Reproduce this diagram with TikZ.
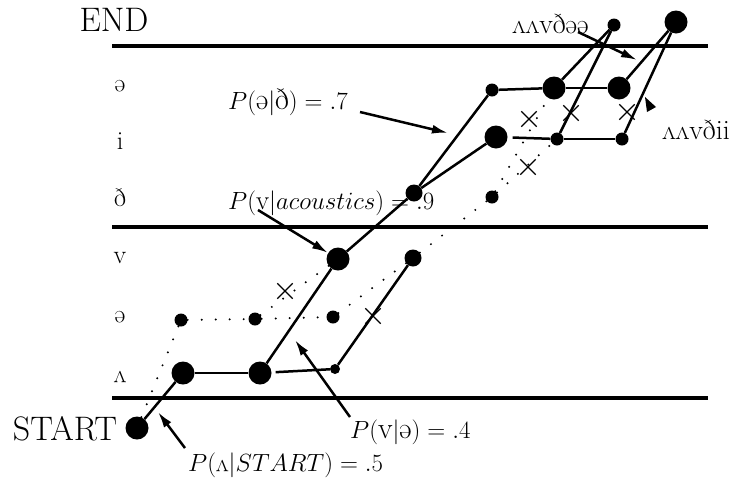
\documentclass[tikz,border=0pt]{standalone}
\usepackage{fontspec}
\newcommand\myschwa{\rotatebox[origin=c]{180}{e}}
\newcommand\myturnv{\rotatebox[origin=c]{180}{v}}
\usetikzlibrary{arrows.meta,shapes.misc}
\begin{document}
\begin{tikzpicture}[x=1pt,y=-1pt,
  dotnode/.style={circle,fill=black,inner sep=0pt},
  bigdot/.style={dotnode,minimum size=23pt},
  meddot/.style={dotnode,minimum size=17pt},
  smalldot/.style={dotnode,minimum size=13pt},
  tinydot/.style={dotnode,minimum size=10pt},
  rulebar/.style={line width=4.5pt},
  trans/.style={line width=2.5pt},
  dottrans/.style={line width=2.2pt,line cap=round,dash pattern=on 0pt off 14pt},
  note/.style={line width=2.5pt,-{Latex[length=16pt,width=9pt]}},
  xmark/.style={cross out,draw,line width=1.3pt,minimum size=14pt,inner sep=0pt},
  rowlab/.style={font=\fontsize{26}{28}\selectfont,inner sep=0pt},
  bigtext/.style={font=\fontsize{34}{36}\selectfont,inner sep=0pt},
  mathlab/.style={inner sep=0pt},
  seqlab/.style={font=\fontsize{28}{30}\selectfont,inner sep=0pt}
]
\useasboundingbox (0,0) rectangle (749,480);
% rules
\draw[rulebar] (112,46) -- (708,46);
\draw[rulebar] (112,227) -- (708,227);
\draw[rulebar] (112,398) -- (708,398);
% text
\node[bigtext] (endl) at (114,20) {END};
\node[bigtext] (startl) at (65,429) {START};
\node[rowlab] (r1) at (120,86) {\myschwa};
\node[rowlab] (r2) at (120,141) {i};
\node[rowlab] (r3) at (120,198) {ð};
\node[rowlab] (r4) at (120,258) {v};
\node[rowlab] (r5) at (120,317) {\myschwa};
\node[rowlab] (r6) at (120,377) {\myturnv};
\node[mathlab,anchor=west,font=\fontsize{30}{32}\selectfont] (l7) at (228,102) {$P(\mbox{\myschwa}|\mbox{ð}) = .7$};
\node[mathlab,anchor=west,font=\fontsize{27}{29}\selectfont] (l9) at (228,203) {$P(\mathrm{v}|acoustics) = .9$};
\node[mathlab,anchor=west,font=\fontsize{30}{32}\selectfont] (l4) at (350,432) {$P(\mathrm{v}|\mbox{\myschwa}) = .4$};
\node[mathlab,anchor=west,font=\fontsize{26}{28}\selectfont] (l5) at (188,465) {$P(\mbox{\myturnv}|START) = .5$};
\node[seqlab,anchor=west] (s1) at (512,24) {\myturnv\myturnv vð\myschwa\myschwa};
\node[seqlab,anchor=west] (s2) at (662,130) {\myturnv\myturnv vðii};
% dots
\node[bigdot] (st) at (137,428) {};
\node[bigdot] (a1) at (183,373) {};
\node[bigdot] (a2) at (260,373) {};
\node[tinydot] (a3) at (335,369) {};
\node[smalldot] (e1) at (181,320) {};
\node[smalldot] (e2) at (255,319) {};
\node[smalldot] (e3) at (333,317) {};
\node[bigdot] (v1) at (338,259) {};
\node[meddot] (v2) at (413,258) {};
\node[meddot] (d1) at (414,193) {};
\node[smalldot] (d2) at (492,197) {};
\node[bigdot] (i1) at (496,137) {};
\node[smalldot] (i2) at (557,139) {};
\node[smalldot] (i3) at (622,139) {};
\node[smalldot] (f1) at (492,90) {};
\node[bigdot] (f2) at (554,88) {};
\node[bigdot] (f3) at (619,88) {};
\node[smalldot] (n1) at (614,25) {};
\node[bigdot] (n2) at (676,22) {};
% solid transitions
\draw[trans] (st) -- (a1);
\draw[trans] (a1) -- (a2);
\draw[trans] (a2) -- (v1);
\draw[trans,shorten <=4pt] (a2) -- (a3);
\draw[trans] (a3) -- (v2);
\draw[trans] (v1) -- (d1);
\draw[trans] (d1) -- (f1);
\draw[trans] (d1) -- (i1);
\draw[trans] (f1) -- (f2);
\draw[trans] (f2) -- (f3);
\draw[trans,shorten <=5pt] (i1) -- (i2);
\draw[trans] (i2) -- (i3);
\draw[trans] (n1) -- (f2);
\draw[trans] (n1) -- (i2);
\draw[trans] (n2) -- (f3);
\draw[trans] (n2) -- (i3);
% dotted transitions
\draw[dottrans] (st) -- (e1);
\draw[dottrans] (e1) -- (e2);
\draw[dottrans] (e2) -- (v1);
\draw[dottrans] (e2) -- (e3);
\draw[dottrans] (e3) -- (v2);
\draw[dottrans] (v2) -- (d2);
\draw[dottrans] (d2) -- (f2);
\draw[dottrans] (d2) -- (i2);
% crosses
\node[xmark] (x1) at (285,291) {};
\node[xmark] (x2) at (373,316) {};
\node[xmark] (x3) at (529,119) {};
\node[xmark] (x4) at (528,167) {};
\node[xmark] (x5) at (571,113) {};
\node[xmark] (x6) at (627,112) {};
% annotation arrows
\coordinate (t7) at (360,112);
\coordinate (h7) at (448,133);
\coordinate (t9) at (258,210);
\coordinate (t4) at (350,417);
\coordinate (h4) at (295,340);
\coordinate (t5) at (185,448);
\coordinate (h5) at (158,412);
\coordinate (ts) at (578,32);
\coordinate (hs) at (637,60);
\draw[note] (t7) -- (h7);
\draw[note] (t9) -- (v1);
\draw[note] (t4) -- (h4);
\draw[note] (t5) -- (h5);
\draw[note] (ts) -- (hs);
\fill (645,97) -- (656,107) -- (647,112) -- cycle;
\end{tikzpicture}
\end{document}
